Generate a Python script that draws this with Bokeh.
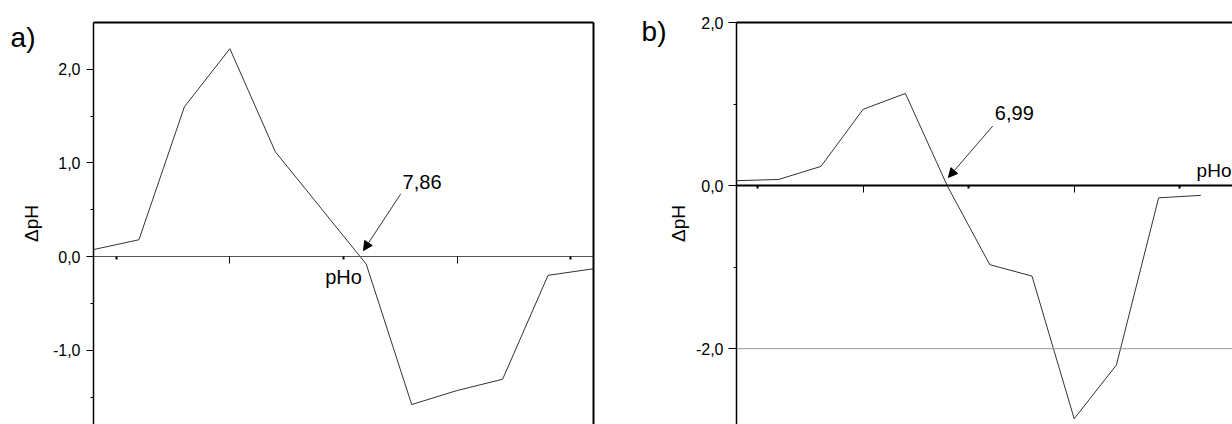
from bokeh.plotting import figure
from bokeh.models import (LinearAxis, FixedTicker, CustomJSTickFormatter, Span, Label,
                          Arrow, NormalHead, Range1d, ColumnDataSource)
from bokeh.layouts import row
from bokeh.embed import file_html
from bokeh.resources import INLINE

# ---- data ----
pHi = [2, 3, 4, 5, 6, 7, 8, 9, 10, 11, 12, 13]
dpH_a = [0.075, 0.18, 1.60, 2.22, 1.12, 0.52, -0.08, -1.58, -1.43, -1.31, -0.20, -0.13]
dpH_b = [0.06, 0.075, 0.235, 0.935, 1.13, -0.01, -0.97, -1.11, -2.86, -2.20, -0.15, -0.12]
pHo_a = 7.86
pHo_b = 6.99
pHo_a_text = "7,86"
pHo_b_text = "6,99"
panel_a_text = "a)"
panel_b_text = "b)"
x_title = "pHo"
y_title = "ΔpH"

FONT = "Liberation Sans"
fmt = CustomJSTickFormatter(code="return tick.toFixed(1).replace('.', ',');")


def border_axis(p, side, width):
    ax = LinearAxis(ticker=FixedTicker(ticks=[]), major_label_text_font_size="0px",
                    axis_line_color="black", axis_line_width=width,
                    major_tick_line_color=None, minor_tick_line_color=None,
                    major_tick_out=0, minor_tick_out=0, major_label_standoff=0,
                    axis_label_standoff=0)
    p.add_layout(ax, side)
    return ax


def make_panel(width, mb_left, mb_right, xr, yr, yt_major, yt_minor, tick_out, ys,
               label_standoff, tag_text, tag_value, tag_standoff):
    p = figure(width=width, height=424, x_range=Range1d(*xr), y_range=Range1d(*yr),
               output_backend="svg", toolbar_location=None,
               min_border_left=mb_left, min_border_right=mb_right,
               min_border_top=22, min_border_bottom=0)
    p.outline_line_color = None
    p.grid.visible = False
    p.background_fill_color = "white"
    p.border_fill_color = "white"

    # y axis
    ya = p.yaxis[0]
    ya.ticker = FixedTicker(ticks=yt_major, minor_ticks=yt_minor)
    ya.formatter = fmt
    ya.axis_line_color = "black"
    ya.axis_line_width = 1.5
    ya.major_tick_out = tick_out
    ya.major_tick_in = 0
    ya.minor_tick_out = 3
    ya.minor_tick_in = 0
    ya.major_tick_line_color = "black"
    ya.minor_tick_line_color = "black"
    ya.major_label_standoff = ys
    ya.major_label_text_font = FONT
    ya.major_label_text_font_size = "16px"
    ya.major_label_text_color = "black"
    ya.axis_label = y_title
    ya.axis_label_text_font = FONT
    ya.axis_label_text_font_size = "19px"
    ya.axis_label_text_font_style = "normal"
    ya.axis_label_text_color = "black"
    ya.axis_label_standoff = label_standoff

    # panel tag ("a)" / "b)") as the single label of an outer, line-less axis
    tag = LinearAxis(ticker=FixedTicker(ticks=[tag_value]),
                     formatter=CustomJSTickFormatter(code="return '%s';" % tag_text),
                     axis_line_color=None, major_tick_line_color=None,
                     minor_tick_line_color=None, major_tick_out=0, minor_tick_out=0,
                     major_label_standoff=tag_standoff,
                     major_label_text_font=FONT, major_label_text_font_size="28px",
                     major_label_text_color="black")
    p.add_layout(tag, "left")

    # x axis drawn through y = 0
    xa = p.xaxis[0]
    xa.fixed_location = 0
    xa.ticker = FixedTicker(ticks=[5, 10], minor_ticks=[2.5, 7.5, 12.5])
    xa.formatter = CustomJSTickFormatter(code="return '';")
    xa.major_label_text_font_size = "1px"
    xa.major_label_standoff = 0
    xa.major_tick_out = 7
    xa.major_tick_in = 0
    xa.minor_tick_out = 3
    xa.minor_tick_in = 0
    xa.major_tick_line_color = "black"
    xa.minor_tick_line_color = "black"
    xa.minor_tick_line_width = 2
    xa.axis_label_text_font = FONT
    xa.axis_label_text_font_size = "20px"
    xa.axis_label_text_font_style = "normal"
    xa.axis_label_text_color = "black"

    border_axis(p, "above", 2)
    return p, xa


# ---------------- panel a ----------------
pa, xa_a = make_panel(620, 93, 27, (2, 13), (-1.793, 2.5), [-1, 0, 1, 2],
                      [-1.5, -0.5, 0.5, 1.5], 7, 6, 8, panel_a_text, 2.34, -18)
xa_a.axis_line_color = "#555555"
xa_a.axis_line_width = 1
xa_a.axis_label = x_title
xa_a.axis_label_standoff = 2
border_axis(pa, "right", 2)
src_a = ColumnDataSource(dict(x=pHi, y=dpH_a))
pa.line("x", "y", source=src_a, line_color="#333333", line_width=1)
pa.add_layout(Arrow(end=NormalHead(size=9, fill_color="black", line_color="black"),
                    x_start=pHo_a + 0.9, y_start=0.67, x_end=pHo_a + 0.08, y_end=0.065,
                    line_color="#333333", line_width=1))
pa.add_layout(Label(x=pHo_a + 0.94, y=0.80, text=pHo_a_text, text_font=FONT,
                    text_font_size="20px", text_color="black", text_baseline="alphabetic"))

# ---------------- panel b ----------------
pb, xa_b = make_panel(612, 116, 0, (2, 13.75), (-2.93, 2.0), [-2, 0, 2],
                      [-3, -1, 1], 8, 5, 4, panel_b_text, 1.89, -2)
xa_b.axis_line_color = "black"
xa_b.axis_line_width = 2
pb.add_layout(Span(location=-2, dimension="width", line_color="#999999", line_width=1))
src_b = ColumnDataSource(dict(x=pHi, y=dpH_b))
pb.line("x", "y", source=src_b, line_color="#333333", line_width=1)
pb.add_layout(Arrow(end=NormalHead(size=9, fill_color="black", line_color="black"),
                    x_start=pHo_b + 1.08, y_start=0.73, x_end=pHo_b + 0.03, y_end=0.10,
                    line_color="#333333", line_width=1))
pb.add_layout(Label(x=pHo_b + 1.13, y=0.89, text=pHo_b_text, text_font=FONT,
                    text_font_size="20px", text_color="black", text_baseline="alphabetic"))
pb.add_layout(Label(x=12.90, y=0.18, text=x_title, text_font=FONT,
                    text_font_size="19px", text_color="black", text_baseline="alphabetic"))

layout = row(pa, pb)
open("out.html", "w").write(file_html(layout, INLINE))
